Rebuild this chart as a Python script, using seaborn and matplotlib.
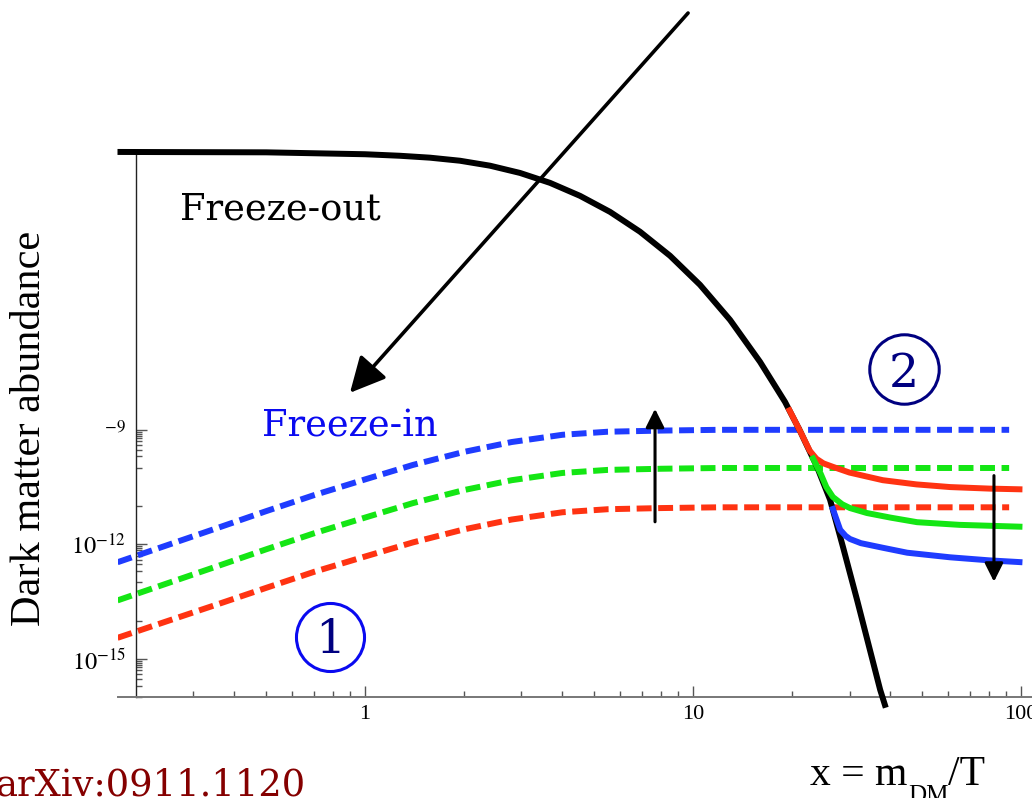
import numpy as np
import pandas as pd
import matplotlib
matplotlib.use("Agg")
import matplotlib.pyplot as plt
import seaborn as sns

# ---------------- data (x = m/T, log10 of abundance) ----------------
x_eq = [0.176, 0.5, 1.0, 1.278, 1.578, 1.948, 2.405, 2.969, 3.665, 4.524, 5.585,
        6.894, 8.511, 10.50, 12.97, 16.01, 19.08, 21.20, 23.88, 26.17, 28.66,
        31.62, 37.2, 38.7]
logY_eq = [-1.72, -1.73, -1.78, -1.82, -1.87, -1.95, -2.08, -2.27, -2.53, -2.87,
           -3.29, -3.81, -4.44, -5.20, -6.12, -7.22, -8.27, -9.03, -9.97, -10.83,
           -12.07, -13.45, -15.81, -16.28]

x_fi = [0.176, 0.25, 0.35, 0.5, 0.7, 1.0, 1.4, 2.0, 2.8, 4.0, 5.5, 8.0, 12.0, 92.0]
logY_fi_blue = [-12.47, -12.02, -11.59, -11.13, -10.71, -10.30, -9.92, -9.58,
                -9.32, -9.13, -9.05, -9.02, -9.0, -9.0]
logY_fi_green = [-13.47, -13.02, -12.59, -12.13, -11.71, -11.30, -10.92, -10.58,
                 -10.32, -10.13, -10.05, -10.02, -10.0, -10.0]
logY_fi_red = [-14.45, -14.01, -13.59, -13.14, -12.72, -12.32, -11.95, -11.61,
               -11.35, -11.16, -11.08, -11.05, -11.03, -11.03]

x_fo_red = [19.5, 21.2, 22.7, 23.8, 25.0, 26.7, 30.0, 37.9, 48.0, 60.8, 80.0, 101.0]
logY_fo_red = [-8.42, -9.03, -9.55, -9.76, -9.88, -9.97, -10.12, -10.32, -10.43,
               -10.50, -10.54, -10.56]
x_fo_green = [23.0, 24.5, 25.5, 26.7, 28.5, 30.1, 33.9, 40.0, 48.2, 65.0, 101.0]
logY_fo_green = [-9.68, -10.15, -10.50, -10.76, -10.95, -11.05, -11.18, -11.30,
                 -11.42, -11.49, -11.54]
x_fo_blue = [26.5, 28.1, 29.2, 30.1, 32.5, 37.9, 45.0, 60.8, 80.0, 101.0]
logY_fo_blue = [-11.00, -11.62, -11.78, -11.86, -11.97, -12.09, -12.22, -12.34,
                -12.42, -12.47]

x_major = [1, 10, 100]
x_major_labels = ["1", "10", "100"]
y_major = [1e-9, 1e-12, 1e-15]
y_major_labels = [r"${}^{-9}$", r"$10^{-12}$", r"$10^{-15}$"]

BLUE = "#1f3cff"
GREEN = "#14e614"
RED = "#ff3312"

# ---------------- figure ----------------
sns.set_theme(style="white")
plt.rcParams["mathtext.fontset"] = "stix"
plt.rcParams["font.family"] = ["DejaVu Serif"]
plt.rcParams["text.color"] = "black"
plt.rcParams["xtick.labelcolor"] = "black"
plt.rcParams["ytick.labelcolor"] = "black"

W, H = 1032, 798
fig = plt.figure(figsize=(W / 100, H / 100), dpi=100)
left_px, right_px, bot_px, top_px = 117.5, 1034.6, 697.0, 86.3
ax = fig.add_axes([left_px / W, (H - bot_px) / H, (right_px - left_px) / W,
                   (bot_px - top_px) / H])
ax.set_xscale("log")
ax.set_yscale("log")
ax.set_xlim(0.176, 110)
ax.set_ylim(1e-16, 1e0)
ax.set_facecolor("white")


def draw(xs, ly, color, lw, dashed=False, z=2, clip=True):
    df = pd.DataFrame({"x": xs, "y": 10.0 ** np.array(ly)})
    sns.lineplot(data=df, x="x", y="y", ax=ax, color=color, linewidth=lw,
                 sort=False, estimator=None, legend=False, zorder=z)
    line = ax.lines[-1]
    if dashed:
        line.set_dashes((2.5, 1.1))
        line.set_dash_capstyle("butt")
    line.set_solid_capstyle("butt")
    line.set_solid_joinstyle("round")
    line.set_clip_on(clip)
    return line


draw(x_fi, logY_fi_red, RED, 4.3, dashed=True, z=2)
draw(x_fi, logY_fi_green, GREEN, 4.3, dashed=True, z=2)
draw(x_fi, logY_fi_blue, BLUE, 4.3, dashed=True, z=2)
draw(x_eq, logY_eq, "black", 4.3, z=3, clip=False)
draw(x_fo_red, logY_fo_red, RED, 4.3, z=4, clip=False)
draw(x_fo_green, logY_fo_green, GREEN, 4.3, z=4, clip=False)
draw(x_fo_blue, logY_fo_blue, BLUE, 4.3, z=4, clip=False)
ax.set_xlabel("")
ax.set_ylabel("")

# ---------------- spines & ticks ----------------
for s in ["top", "right"]:
    ax.spines[s].set_visible(False)
ax.spines["left"].set_position(("data", 0.2))
ax.spines["left"].set_bounds(1e-16, 10 ** -1.72)
ax.spines["left"].set_color("#222222")
ax.spines["left"].set_linewidth(1.0)
ax.spines["bottom"].set_color("#777777")
ax.spines["bottom"].set_linewidth(1.4)

ax.set_xticks(x_major)
ax.set_xticklabels(x_major_labels, fontfamily="Liberation Serif", fontsize=16)
ax.set_xticks([k * 10.0 ** e for e in (-1, 0, 1) for k in range(2, 10)
               if k * 10.0 ** e > 0.25], minor=True)
ax.set_yticks(y_major)
ax.set_yticklabels(y_major_labels, fontsize=17.5)
ax.set_yticks([10.0 ** e for e in range(-16, -9)] +
              [k * 10.0 ** e for e in (-10, -13, -16) for k in range(2, 10)],
              minor=True)
ax.tick_params(which="both", direction="in", color="#555555", width=1.0,
               bottom=True, left=True, top=False, right=False,
               labelcolor="black")
ax.tick_params(which="major", length=8)
ax.tick_params(which="minor", length=4, labelbottom=False, labelleft=False)
ax.tick_params(axis="x", which="major", pad=6)
ax.tick_params(axis="y", which="major", pad=7)
ax.grid(False)

# ---------------- annotations ----------------
ax.annotate("", xy=(0.9, 10 ** -8.03), xytext=(9.66, 10 ** 1.92),
            arrowprops=dict(arrowstyle="-|>", mutation_scale=54, lw=2.6,
                            color="black", shrinkA=0, shrinkB=0),
            annotation_clip=False, zorder=6)
ax.annotate("", xy=(7.66, 10 ** -8.45), xytext=(7.66, 10 ** -11.41),
            arrowprops=dict(arrowstyle="-|>", mutation_scale=28, lw=2.2,
                            color="black", shrinkA=0, shrinkB=0),
            annotation_clip=False, zorder=6)
ax.annotate("", xy=(82.7, 10 ** -12.98), xytext=(82.7, 10 ** -10.2),
            arrowprops=dict(arrowstyle="-|>", mutation_scale=28, lw=2.2,
                            color="black", shrinkA=0, shrinkB=0),
            annotation_clip=False, zorder=6)

ax.text(0.273, 10 ** -3.50, "Freeze-out", ha="left", va="baseline",
        family="DejaVu Serif", fontsize=26.5, color="black")
ax.text(0.485, 10 ** -9.18, "Freeze-in", ha="left", va="baseline",
        family="DejaVu Serif", fontsize=26.5, color="#0a0af0")

ax.plot([0.782], [10 ** -14.42], marker="o", ms=49, mfc="none", mec="#0a0af0",
        mew=2.2, clip_on=False, zorder=5)
ax.text(0.782, 10 ** -14.84, "1", ha="center", va="baseline",
        family="DejaVu Serif", fontsize=34, color="#000080")
ax.plot([44.0], [10 ** -7.40], marker="o", ms=50, mfc="none", mec="#000080",
        mew=2.2, clip_on=False, zorder=5)
ax.text(44.0, 10 ** -7.87, "2", ha="center", va="baseline",
        family="DejaVu Serif", fontsize=34, color="#000080")

fig.text(30 / W, 1 - 428 / H, "Dark matter abundance", rotation=90,
         ha="center", va="center", family="Liberation Serif", fontsize=30.5,
         color="black")
fig.text(305 / W, 1 - 796 / H, "arXiv:0911.1120", ha="right", va="baseline",
         family="DejaVu Serif", fontsize=26.5, color="#850000")

# x label composed of pieces: "x = m", subscript "DM", "/T"
renderer = fig.canvas.get_renderer()
t1 = fig.text(810 / W, 1 - 785 / H, "x = m", ha="left", va="baseline",
              family="Liberation Serif", fontsize=30, color="black")
x1 = t1.get_window_extent(renderer).x1
t2 = fig.text(x1 / W + 0.0005, 1 - 802 / H, "DM", ha="left", va="baseline",
              family="Liberation Serif", fontsize=18, color="black")
x2 = t2.get_window_extent(renderer).x1
fig.text(x2 / W, 1 - 785 / H, "/T", ha="left", va="baseline",
         family="Liberation Serif", fontsize=30, color="black")

fig.savefig("out.png", dpi=100, facecolor="white")
